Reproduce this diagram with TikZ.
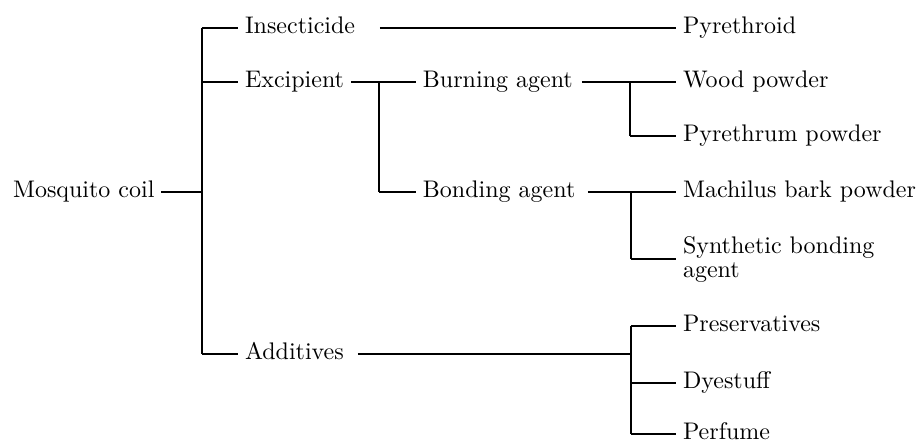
\documentclass[tikz,border=0pt]{standalone}
\usepackage{tikz}

\begin{document}
\begin{tikzpicture}
  [x=0.4pt,y=-0.4pt,line width=0.8pt,
   every node/.style={anchor=mid west,inner xsep=2.4pt,inner ysep=0pt,font=\fontsize{9.6}{9.6}\selectfont}]
  \useasboundingbox (0,0) rectangle (923,443);

  \node (mc)   at (6,192)   {Mosquito coil};

  \node (ins)  at (238,28)  {Insecticide};
  \node (exc)  at (238,82)  {Excipient};
  \node (add)  at (238,354) {Additives};

  \node (burn) at (416,82)  {Burning agent};
  \node (bond) at (416,192) {Bonding agent};

  \node (pyd)  at (676,28)  {Pyrethroid};
  \node (wood) at (676,82)  {Wood powder};
  \node (pyrm) at (676,136) {Pyrethrum powder};
  \node (mach) at (676,192) {Machilus bark powder};
  \node[anchor=north west,align=left] (syn) at (676,236) {Synthetic bonding\\agent};
  \node (pres) at (676,326) {Preservatives};
  \node (dye)  at (676,383) {Dyestuff};
  \node (perf) at (676,434) {Perfume};

  % junctions
  \coordinate (a1) at (202,28);
  \coordinate (a2) at (202,82);
  \coordinate (a3) at (202,192);
  \coordinate (a4) at (202,354);
  \coordinate (b1) at (379,82);
  \coordinate (b2) at (379,192);
  \coordinate (c1) at (630,82);
  \coordinate (c2) at (630,136);
  \coordinate (d1) at (631,192);
  \coordinate (d2) at (631,259);
  \coordinate (e1) at (631,326);
  \coordinate (e2) at (631,354);
  \coordinate (e3) at (631,383);
  \coordinate (e4) at (631,434);
  \coordinate (f1) at (380,28);
  \coordinate (g1) at (582,82);
  \coordinate (g2) at (588,192);
  \coordinate (g3) at (358,354);

\foreach \from/\to in
{mc.mid east/a3, a1/a4, a1/ins.mid west, a2/exc.mid west, a4/add.mid west,
 f1/pyd.mid west, exc.mid east/burn.mid west, b1/b2, b2/bond.mid west,
 g1/wood.mid west, c1/c2, c2/pyrm.mid west,
 g2/mach.mid west, d1/d2, g3/e2, e1/e4,
 e1/pres.mid west, e3/dye.mid west, e4/perf.mid west}
    \draw (\from) -- (\to);
    \draw (d2) -- (d2 -| syn.west);
\end{tikzpicture}
\end{document}
